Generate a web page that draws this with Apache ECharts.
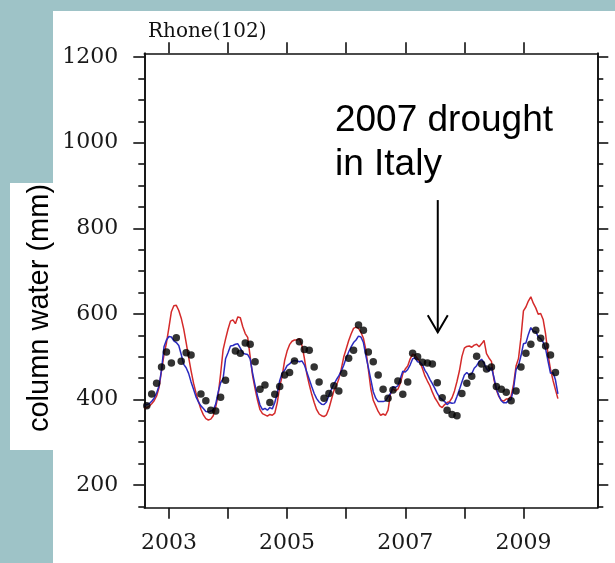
<!DOCTYPE html>
<html>
<head>
<meta charset="utf-8">
<script src="https://cdn.jsdelivr.net/npm/echarts@6/dist/echarts.min.js"></script>
<style>
  html, body { margin: 0; padding: 0; background: #9ec3c7; }
  #chart { width: 615px; height: 563px; }
</style>
</head>
<body>
<div id="chart"></div>
<script>
// Rhone basin (102): total column water storage in mm.

// Two model runs, sampled every half month from 1 Aug 2002.
const lineStart = 2002 + 7 / 12;
const lineStep = 1 / 24;
const redRun = [
  379,381,384,390,397,408,428,467,505,532,
  568,605,619,620,608,590,565,533,499,467,
  438,415,395,377,364,355,352,354,362,382,
  410,460,516,541,564,583,586,577,593,591,
  570,554,545,500,455,425,398,376,367,364,
  361,365,363,368,392,430,455,491,513,528,
  536,539,539,542,527,497,460,435,412,393,
  376,366,362,360,364,379,400,420,432,448,
  471,499,518,537,553,566,569,566,557,543,
  516,470,425,398,385,372,363,366,363,375,
  413,425,420,424,438,460,471,478,495,506,
  503,495,487,472,455,443,432,417,404,395,
  385,381,388,393,395,404,420,442,467,500,
  520,524,525,522,527,529,523,530,538,507,
  497,489,447,422,407,398,396,401,401,408,
  436,478,496,545,607,616,630,640,625,614,
  599,601,587,553,505,470,445,423,402
];
const blueRun = [
  386,388,390,396,403,415,432,470,523,539,
  547,546,537,533,526,505,482,474,461,441,
  424,406,394,385,379,372,371,373,375,389,
  417,439,448,495,509,525,526,529,530,520,
  509,506,505,495,461,433,408,387,376,379,
  375,381,378,393,414,444,462,468,479,483,
  489,491,490,488,490,481,464,447,430,414,
  402,394,389,388,394,410,424,436,446,455,
  466,480,497,511,523,533,539,548,546,533,
  502,475,447,418,403,395,395,395,397,406,
  414,430,428,432,449,466,464,470,481,495,
  498,488,487,481,468,459,447,437,426,414,
  404,400,395,388,393,391,392,407,423,441,
  457,463,457,460,473,479,489,494,485,472,
  466,475,452,425,409,397,392,392,398,400,
  426,470,479,502,530,532,552,568,559,559,
  546,542,534,518,489,461,463,446,413
];

// Monthly observations from Aug 2002 (null = month not available).
const obsStart = 2002 + 7 / 12;
const obsMonthly = [
  385, 413, 438, 476, 511,
  485, 544, 489, 509, 504, null, 413, 397, 375, 373, 405, 445,
  null, 513, 508, 532, 529, 488, 424, 434, 393, 412, 430, 457,
  463, 490, 535, 517, 515, 476, 441, 403, 414, 432, 420, 461,
  496, 515, 574, 562, 511, 488, 457, 424, 403, 422, 443, 412,
  441, 508, 500, 487, 485, 483, 439, 404, 375, 365, 362, 414,
  438, 454, 501, 483, 471, 476, 430, 424, 417, 397, 420, 476,
  508, 529, 562, 543, 525, 504, 463
];

const yearTicks = [2003, 2004, 2005, 2006, 2007, 2008, 2009];
const yearLabels = [2003, 2005, 2007, 2009];
const valueTicks = [200, 400, 600, 800, 1000, 1200];
const valueMinorTicks = [150, 250, 300, 350, 450, 500, 550, 650, 700, 750,
  850, 900, 950, 1050, 1100, 1150];

const xRange = [2002 + 7 / 12, 2010.25];
const yRange = [147, 1209];

// Annotation anchored in data space
const droughtNote = { text: '2007 drought\nin Italy', year: 2005.81, value: 1103 };
const droughtArrow = { year: 2007.55, from: 866, to: 557 };

const runPoints = (vals) => vals.map((v, i) => [lineStart + i * lineStep, v]);
const obsPoints = obsMonthly
  .map((v, i) => (v == null ? null : [obsStart + (i + 0.5) / 12, v]))
  .filter(Boolean);

const ink = '#111';
const frame = { show: true, lineStyle: { color: ink, width: 1.6 } };
const labelFont = { fontFamily: 'DejaVu Serif', fontSize: 22, color: '#1a1a1a',
                    formatter: (v) => String(Math.round(v)) };

function xAx(position, withLabels) {
  return {
    type: 'value', position, min: xRange[0], max: xRange[1],
    axisLine: frame,
    axisTick: { show: true, customValues: yearTicks, length: 11, lineStyle: { color: ink, width: 1.6 } },
    axisLabel: withLabels
      ? Object.assign({ show: true, customValues: yearLabels, margin: 25 }, labelFont)
      : { show: false },
    splitLine: { show: false }
  };
}
function yAx(position, ticks, len, withLabels) {
  return {
    type: 'value', position, min: yRange[0], max: yRange[1],
    axisLine: frame,
    axisTick: { show: true, customValues: ticks, length: len, lineStyle: { color: ink, width: 1.6 } },
    axisLabel: withLabels
      ? Object.assign({ show: true, customValues: ticks, margin: 26 }, labelFont)
      : { show: false },
    splitLine: { show: false }
  };
}

const staticGraphics = [
  { type: 'rect', z: -10, shape: { x: 53, y: 11, width: 562, height: 552 }, style: { fill: '#fff' } },
  { type: 'rect', z: -10, shape: { x: 10, y: 183, width: 45, height: 267 }, style: { fill: '#fff' } },
  {
    type: 'text', x: 40, y: 308, rotation: Math.PI / 2,
    style: { text: 'column water (mm)', font: '29px "Liberation Sans"', fill: '#000',
             textAlign: 'center', textVerticalAlign: 'middle' }
  }
];

const chart = echarts.init(document.getElementById('chart'), null, { renderer: 'canvas' });
chart.setOption({
  animation: false,
  backgroundColor: '#9ec3c7',
  title: {
    text: 'Rhone(102)', left: 143, top: 17,
    textStyle: { fontFamily: 'DejaVu Serif', fontSize: 20, fontWeight: 'normal', color: ink }
  },
  grid: { left: 144.3, right: 17.7, top: 53.3, bottom: 55.3, containLabel: false },
  xAxis: [xAx('bottom', true), xAx('top', false)],
  yAxis: [
    yAx('left', valueTicks, 11, true),
    yAx('left', valueMinorTicks, 6, false),
    yAx('right', valueTicks, 11, false),
    yAx('right', valueMinorTicks, 6, false)
  ],
  graphic: staticGraphics,
  series: [
    { type: 'line', data: runPoints(redRun), showSymbol: false, symbol: 'none',
      lineStyle: { color: '#d42a2a', width: 1.5 }, z: 2 },
    { type: 'line', data: runPoints(blueRun), showSymbol: false, symbol: 'none',
      lineStyle: { color: '#2a2ac0', width: 1.5 }, z: 3 },
    { type: 'scatter', data: obsPoints, symbolSize: 7.5,
      itemStyle: { color: '#000' }, z: 4 }
  ]
});

// Place the annotation text and arrow from their data-space anchors
const notePx = chart.convertToPixel({ gridIndex: 0 }, [droughtNote.year, droughtNote.value]);
const arrowTop = chart.convertToPixel({ gridIndex: 0 }, [droughtArrow.year, droughtArrow.from]);
const arrowTip = chart.convertToPixel({ gridIndex: 0 }, [droughtArrow.year, droughtArrow.to]);
chart.setOption({
  graphic: staticGraphics.concat([
    {
      type: 'text', x: notePx[0], y: notePx[1],
      style: { text: droughtNote.text, font: '37px "Liberation Sans"', lineHeight: 44,
               fill: '#000', textAlign: 'left', textVerticalAlign: 'top' }
    },
    {
      type: 'line', shape: { x1: arrowTop[0], y1: arrowTop[1], x2: arrowTip[0], y2: arrowTip[1] },
      style: { stroke: '#000', lineWidth: 2 }
    },
    {
      type: 'polyline',
      shape: { points: [[arrowTip[0] - 10, arrowTip[1] - 17], arrowTip, [arrowTip[0] + 10, arrowTip[1] - 17]] },
      style: { stroke: '#000', lineWidth: 2, fill: null }
    }
  ])
}, { replaceMerge: ['graphic'] });
</script>
</body>
</html>
